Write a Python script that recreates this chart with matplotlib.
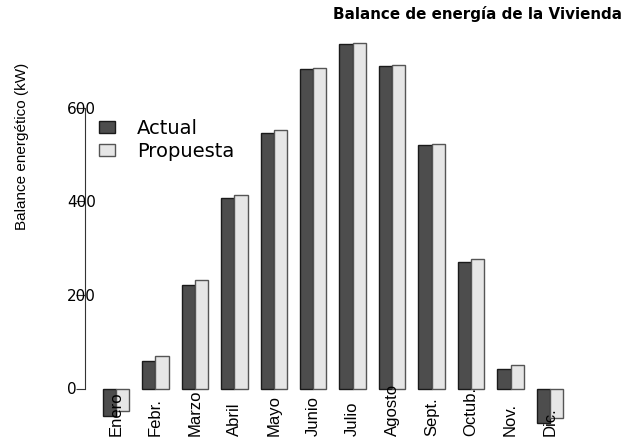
import matplotlib
matplotlib.use("Agg")
import matplotlib.pyplot as plt
import matplotlib.transforms as mtransforms
import numpy as np

# datos
meses = ['Enero', 'Febr.', 'Marzo', 'Abril', 'Mayo', 'Junio',
         'Julio', 'Agosto', 'Sept.', 'Octub.', 'Nov.', 'Dic.']
actual = [-59, 59, 221, 407, 546, 682, 736, 689, 520, 271, 42, -73]
propuesta = [-49, 69, 231, 414, 553, 684, 738, 691, 522, 276, 51, -63]
yticks = [0, 200, 400, 600]

W, H = 635, 441
fig = plt.figure(figsize=(W / 100, H / 100), dpi=100)

# ejes: x=0 en px 116, paso 39.45 px ; y=0 en px 388.5, 0.4683 px por unidad
px_x = 39.45
x_left, x_right = -0.785, 12.0
y_low, y_high = -100, 800
py = 0.4683
left_px = 116 + x_left * px_x
right_px = 116 + x_right * px_x
bot_px = 388.5 - y_low * py
top_px = 388.5 - y_high * py
ax = fig.add_axes([left_px / W, 1 - bot_px / H,
                   (right_px - left_px) / W, (bot_px - top_px) / H])

x = np.arange(len(meses))
bw = 0.335
ax.bar(x - bw / 2, actual, bw, color='#4d4d4d', edgecolor='#1a1a1a',
       linewidth=1.0, label='Actual')
ax.bar(x + bw / 2, propuesta, bw, color='#e6e6e6', edgecolor='#555555',
       linewidth=1.0, label='Propuesta')

ax.set_xlim(x_left, x_right)
ax.set_ylim(y_low, y_high)

for s in ['top', 'right', 'bottom']:
    ax.spines[s].set_visible(False)
ax.spines['left'].set_bounds(0, 600)
ax.spines['left'].set_color('#333333')
ax.spines['left'].set_zorder(5)

ax.set_xticks([])
ax.set_yticks(yticks)
ax.tick_params(axis='y', length=6.5, width=0.8, color='#333333', pad=6.3)
ax.set_yticklabels([str(v) for v in yticks], fontsize=11, ha='left')

# etiquetas de los meses, alineadas por abajo
trans = mtransforms.blended_transform_factory(ax.transData, fig.transFigure)
for xi, m in zip(x, meses):
    ax.text(xi, 1 - 436 / H, m, rotation=90, ha='center', va='bottom',
            fontsize=12, family='Liberation Sans', transform=trans, zorder=6)

fig.text(22 / W, 1 - 146 / H, 'Balance energético (kW)', rotation=90,
         ha='center', va='center', fontsize=11, family='Liberation Sans')
fig.text(333 / W, 1 - 14.5 / H, 'Balance de energía de la Vivienda',
         ha='left', va='center', fontsize=10.9, fontweight='bold')

ax.legend(loc='upper left', bbox_to_anchor=(99 / W, 1 - 119 / H),
          bbox_transform=fig.transFigure, frameon=False, fontsize=14,
          handlelength=0.82, handleheight=0.57, handletextpad=1.15,
          labelspacing=0.22, borderpad=0, borderaxespad=0)

fig.savefig('out.png', dpi=100)
